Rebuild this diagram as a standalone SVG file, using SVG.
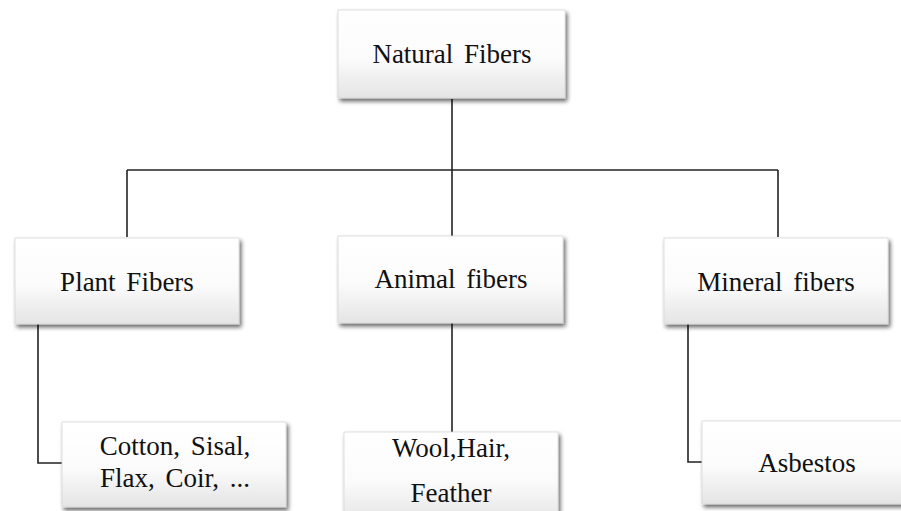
<svg xmlns="http://www.w3.org/2000/svg" width="901" height="511" viewBox="0 0 901 511">
  <style>
    .box { fill: url(#boxFill); stroke: #d8d8d8; stroke-width: 0.8; filter: url(#shadow); }
    .label { font-size: 27px; fill: #111; text-anchor: middle; word-spacing: 4px; }
    .wire { fill: none; stroke: #222; stroke-width: 1.6; }
  </style>
  <defs>
    <linearGradient id="boxFill" x1="0" y1="0" x2="0" y2="1">
      <stop offset="0" stop-color="#ffffff"/>
      <stop offset="0.55" stop-color="#fbfbfb"/>
      <stop offset="1" stop-color="#e4e4e4"/>
    </linearGradient>
    <filter id="shadow" x="-10%" y="-10%" width="125%" height="130%">
      <feGaussianBlur in="SourceAlpha" stdDeviation="2"/>
      <feOffset dx="2" dy="3" result="blur"/>
      <feComponentTransfer><feFuncA type="linear" slope="0.6"/></feComponentTransfer>
      <feMerge><feMergeNode/><feMergeNode in="SourceGraphic"/></feMerge>
    </filter>
  </defs>
  <rect width="901" height="511" fill="#ffffff"/>

  <g id="connectors">
    <path class="wire" d="M452,99 V170"/>
    <path class="wire" d="M127,170 H778"/>
    <path class="wire" d="M127,170 V237"/>
    <path class="wire" d="M452,170 V236"/>
    <path class="wire" d="M778,170 V237"/>
    <path class="wire" d="M38,324 V463 H62"/>
    <path class="wire" d="M452,323 V432"/>
    <path class="wire" d="M688,324 V462 H702"/>
  </g>

  <g font-family="'Times New Roman', 'Liberation Serif', 'DejaVu Serif', serif">
    <g id="natural-fibers">
      <rect class="box" x="338" y="10" width="227" height="88"/>
      <text class="label" x="452" y="63">Natural Fibers</text>
    </g>

    <g id="plant-fibers">
      <rect class="box" x="15" y="238" width="224" height="86"/>
      <text class="label" x="127" y="291">Plant Fibers</text>
    </g>

    <g id="animal-fibers">
      <rect class="box" x="338" y="236" width="225" height="87"/>
      <text class="label" x="451" y="288">Animal fibers</text>
    </g>

    <g id="mineral-fibers">
      <rect class="box" x="664" y="238" width="224" height="86"/>
      <text class="label" x="776" y="291">Mineral fibers</text>
    </g>

    <g id="plant-examples">
      <rect class="box" x="62" y="422" width="224" height="85"/>
      <text class="label" x="175" y="455">Cotton, Sisal,</text>
      <text class="label" x="175" y="487">Flax, Coir, ...</text>
    </g>

    <g id="animal-examples">
      <rect class="box" x="344" y="432" width="214" height="90"/>
      <text class="label" x="451" y="457">Wool,Hair,</text>
      <text class="label" x="451" y="502">Feather</text>
    </g>

    <g id="mineral-examples">
      <rect class="box" x="702" y="421" width="212" height="83"/>
      <text class="label" x="807" y="472">Asbestos</text>
    </g>
  </g>
</svg>
